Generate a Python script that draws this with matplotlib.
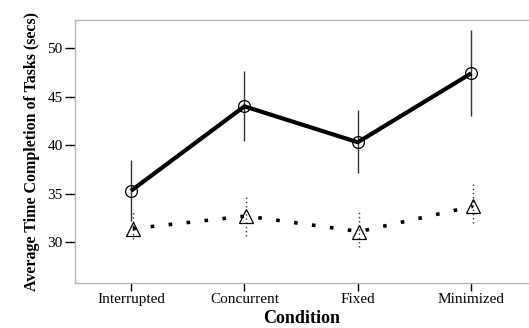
import numpy as np
import matplotlib
matplotlib.use("Agg")
from matplotlib import pyplot as plt

# datos
conditions = ['Interrupted', 'Concurrent', 'Fixed', 'Minimized']
mean_a = [35.3, 44.0, 40.3, 47.4]
err_a_hi = [38.5, 47.6, 43.6, 51.9]
err_a_lo = [32.2, 40.4, 37.1, 43.0]
mean_b = [31.4, 32.7, 31.1, 33.7]
err_b_hi = [33.1, 34.7, 33.1, 36.1]
err_b_lo = [30.3, 30.6, 29.5, 32.0]

plt.rcParams['font.family'] = ['Liberation Serif', 'DejaVu Serif']

fig = plt.figure(figsize=(5.29, 3.28), dpi=100)
ax = fig.add_axes([0.1418, 0.1372, 0.8582, 0.802])

x = np.arange(len(conditions))

# barras de error
ax.vlines(x, err_a_lo, err_a_hi, color='#333333', lw=1.0, zorder=2)
ax.vlines(x + 0.015, err_b_lo, err_b_hi, color='#333333', lw=1.0,
          linestyles=(0, (1, 2)), zorder=2)

ax.plot(x, mean_a, color='black', lw=3.0, solid_capstyle='butt', zorder=3)
ax.plot(x, mean_a, ls='none', marker='o', ms=8.5, mfc='none', mec='black',
        mew=0.9, zorder=4)

ax.plot(x + 0.015, mean_b, color='black', lw=2.6, ls=(0, (1, 4.0)),
        dash_capstyle='butt', zorder=3)
ax.plot(x + 0.015, mean_b, ls='none', marker='^', ms=10, mfc='none',
        mec='black', mew=0.9, zorder=4)

ax.set_xlim(-0.494, 3.51)
ax.set_ylim(25.8, 52.9)
ax.set_xticks(x)
ax.set_xticklabels(conditions, fontsize=11)
ax.set_yticks([30, 35, 40, 45, 50])
ax.tick_params(axis='y', length=7, width=1, color='black', labelsize=11, pad=2)
ax.tick_params(axis='x', length=6, width=1, color='black', labelsize=11, pad=1)

for s in ['left', 'top', 'bottom']:
    ax.spines[s].set_color('#b5b5b5')
    ax.spines[s].set_linewidth(1.0)
ax.spines['right'].set_visible(False)

ax.set_xlabel('Condition', fontsize=13, fontweight='bold', labelpad=3)
ax.set_ylabel('Average Time Completion of Tasks (secs)', fontsize=11.5,
              fontweight='bold', labelpad=5)

fig.savefig('out.png', dpi=100)
